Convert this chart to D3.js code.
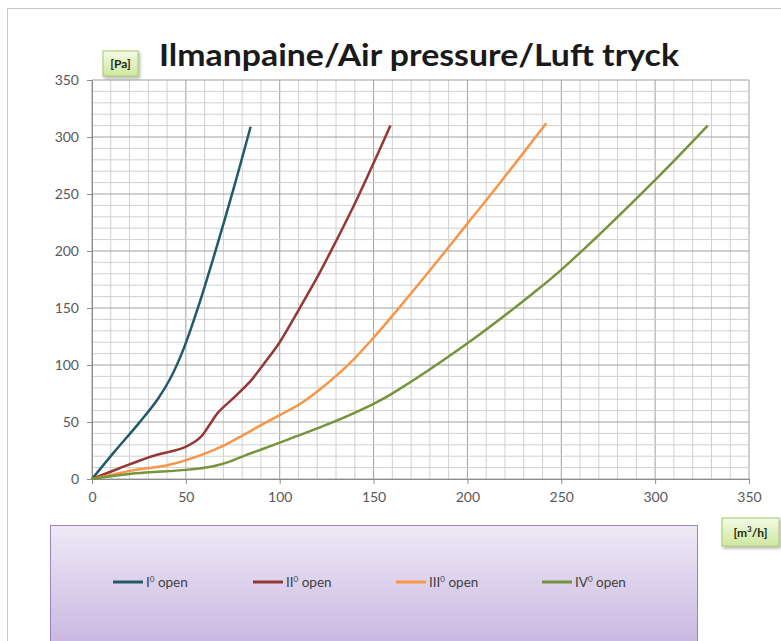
<!DOCTYPE html>
<meta charset="utf-8">
<style>
body { margin: 0; background: #fff; }
text { font-family: Lato, "Open Sans", sans-serif; }
.tick text { fill: #595959; font-size: 14px; }
</style>
<body>
<script src="https://cdn.jsdelivr.net/npm/d3@7"></script>
<script>

// data: flow [m3/h] vs pressure [Pa]
var seriesNames = ["I", "II", "III", "IV"];
var seriesColors = ["#215a69", "#953735", "#f79646", "#77933c"];

var flowI = [0, 12, 25, 35, 42, 49, 57, 66.5, 76, 84.5];
var paI   = [0, 24, 49, 70, 89, 115, 153, 204, 258, 309];

var flowII = [0, 14, 32, 49.5, 58, 62, 67, 76, 85, 92, 100, 110, 120, 127, 141, 159];
var paII   = [0, 9, 20, 28, 37, 46, 58, 72, 87, 102, 120, 148, 177, 199, 245, 310];

var flowIII = [0, 23, 40, 58, 71, 81, 92, 100, 111, 121, 137, 150, 164, 182, 200, 217, 242];
var paIII   = [0, 8, 12, 21, 30, 39, 49, 56, 66, 78, 101, 124, 151, 187, 224, 259, 312];

var flowIV = [0, 23, 50, 64, 73, 82, 92, 105, 130, 150, 159, 200, 235, 251, 301, 328];
var paIV   = [0, 5, 8, 11, 15, 21, 27, 35, 51, 66, 74, 119, 163, 185, 264, 310];

var xTicks = [0, 50, 100, 150, 200, 250, 300, 350];
var yTicks = [0, 50, 100, 150, 200, 250, 300, 350];

var W = 781, H = 641;
var margin = {left: 92, top: 80, right: 32, bottom: 162};
var width = W - margin.left - margin.right,
    height = H - margin.top - margin.bottom;

var svg = d3.select("body").append("svg")
    .attr("width", W).attr("height", H);

var defs = svg.append("defs");
var lg = defs.append("linearGradient").attr("id", "legendFill")
    .attr("x1", 0).attr("y1", 0).attr("x2", 0).attr("y2", 1);
lg.append("stop").attr("offset", "0%").attr("stop-color", "#eee9f6");
lg.append("stop").attr("offset", "100%").attr("stop-color", "#c6b3e0");
var gg = defs.append("linearGradient").attr("id", "boxFill")
    .attr("x1", 0).attr("y1", 0).attr("x2", 0).attr("y2", 1);
gg.append("stop").attr("offset", "0%").attr("stop-color", "#f4fae6");
gg.append("stop").attr("offset", "100%").attr("stop-color", "#cfe8a0");
var sh = defs.append("filter").attr("id", "shadow")
    .attr("x", "-20%").attr("y", "-20%").attr("width", "150%").attr("height", "160%");
sh.append("feDropShadow").attr("dx", 1.5).attr("dy", 2).attr("stdDeviation", 1.5)
    .attr("flood-color", "#000").attr("flood-opacity", 0.3);

// outer chart frame
svg.append("rect").attr("x", 7.5).attr("y", 8.5).attr("width", 800).attr("height", 800)
    .attr("fill", "none").attr("stroke", "#c8c8c8");

var x = d3.scaleLinear().domain([0, 350]).range([0, width]);
var y = d3.scaleLinear().domain([0, 350]).range([height, 0]);

var g = svg.append("g").attr("transform", "translate(" + margin.left + "," + margin.top + ")");

// minor grid every 10, major every 50
var minor = d3.range(0, 351, 10);
g.selectAll(".vgrid").data(minor).enter().append("line")
    .attr("x1", function(d) { return x(d); }).attr("x2", function(d) { return x(d); })
    .attr("y1", 0).attr("y2", height)
    .attr("stroke", function(d) { return d % 50 === 0 ? "#a0a0a0" : "#d0d0d0"; })
    .attr("stroke-width", 1);
g.selectAll(".hgrid").data(minor).enter().append("line")
    .attr("y1", function(d) { return y(d); }).attr("y2", function(d) { return y(d); })
    .attr("x1", 0).attr("x2", width)
    .attr("stroke", function(d) { return d % 50 === 0 ? "#a0a0a0" : "#d0d0d0"; })
    .attr("stroke-width", 1);

// axes
var xAxis = g.append("g").attr("transform", "translate(0," + height + ")")
    .call(d3.axisBottom(x).tickValues(xTicks).tickSize(5).tickPadding(8));
var yAxis = g.append("g")
    .call(d3.axisLeft(y).tickValues(yTicks).tickSize(5).tickPadding(8));
[xAxis, yAxis].forEach(function(a) {
  a.select(".domain").attr("stroke", "#8c8c8c");
  a.selectAll(".tick line").attr("stroke", "#8c8c8c");
});

// series
var flows = [flowI, flowII, flowIII, flowIV];
var pas = [paI, paII, paIII, paIV];
var line = d3.line()
    .x(function(d) { return x(d[0]); })
    .y(function(d) { return y(d[1]); })
    .curve(d3.curveCatmullRom.alpha(0.5));

flows.forEach(function(f, i) {
  var pts = f.map(function(v, j) { return [v, pas[i][j]]; });
  g.append("path").datum(pts)
      .attr("d", line)
      .attr("fill", "none")
      .attr("stroke", seriesColors[i])
      .attr("stroke-width", 2.5);
});

// title
svg.append("text").attr("x", 419).attr("y", 66)
    .attr("text-anchor", "middle")
    .attr("font-size", 31).attr("font-weight", "bold").attr("fill", "#1a1a1a")
    .attr("textLength", 520).attr("lengthAdjust", "spacingAndGlyphs")
    .text("Ilmanpaine/Air pressure/Luft tryck");

// unit boxes
function unitBox(bx, by, bw, bh, build) {
  svg.append("rect").attr("x", bx).attr("y", by).attr("width", bw).attr("height", bh)
      .attr("fill", "url(#boxFill)").attr("stroke", "#a6c86a").attr("filter", "url(#shadow)");
  var t = svg.append("text").attr("x", bx + bw / 2).attr("y", by + bh / 2 + 4.5)
      .attr("text-anchor", "middle").attr("font-size", 12).attr("font-weight", "bold")
      .attr("fill", "#1d2b10");
  build(t);
}
unitBox(103, 51, 35, 25, function(t) { t.text("[Pa]"); });
unitBox(722, 518, 57, 28, function(t) {
  t.append("tspan").text("[m");
  t.append("tspan").attr("font-size", 8).attr("dy", -5).text("3");
  t.append("tspan").attr("dy", 5).text("/h]");
});

// legend
svg.append("rect").attr("x", 50.5).attr("y", 525.5).attr("width", 647).attr("height", 130)
    .attr("fill", "url(#legendFill)").attr("stroke", "#9884c0");

var legendX = [113, 253, 396, 542];
seriesNames.forEach(function(n, i) {
  var lx = legendX[i], ly = 582;
  svg.append("line").attr("x1", lx).attr("x2", lx + 30).attr("y1", ly).attr("y2", ly)
      .attr("stroke", seriesColors[i]).attr("stroke-width", 3);
  var t = svg.append("text").attr("x", lx + 33).attr("y", ly + 5)
      .attr("font-size", 13.5).attr("fill", "#404040");
  t.append("tspan").text(n);
  t.append("tspan").attr("font-size", 8).attr("dy", -5).text("0");
  t.append("tspan").attr("dy", 5).text(" open");
});

</script>
</body>
